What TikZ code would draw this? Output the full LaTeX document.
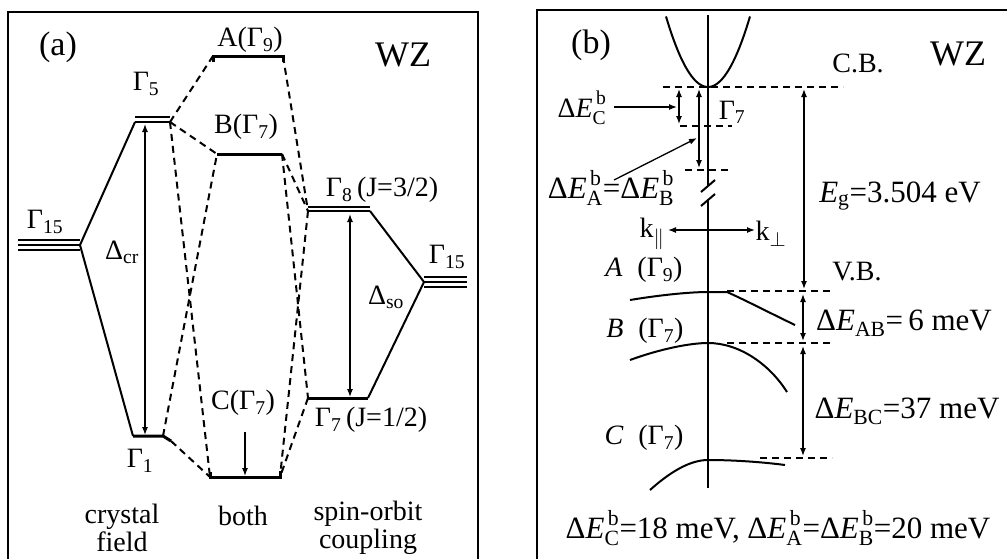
\documentclass[tikz,border=0pt]{standalone}
\usepackage{fontspec}
\setmainfont{Liberation Serif}
\usetikzlibrary{arrows.meta}
\newcommand{\sbs}[1]{$_{\mathrm{#1}}$}
\newcommand{\dEb}[1]{Δ\textit{E}$_{\mathrm{#1}\vphantom{A}}^{\,\mathrm{b}\vphantom{g}}$}
\newcommand{\dEs}[1]{Δ\textit{E}$_{\mathrm{#1}}$}
\begin{document}
\begin{tikzpicture}[x=1pt,y=-1pt,
  lvl/.style={line width=3pt},
  lvlt/.style={line width=1.8pt},
  conn/.style={line width=2pt},
  dsh/.style={line width=2pt, dash pattern=on 7pt off 5pt},
  dshb/.style={line width=1.6pt, dash pattern=on 7pt off 5pt},
  dbl/.style={line width=1.3pt,{Latex[length=8pt,width=6pt]}-{Latex[length=8pt,width=6pt]}},
  sng/.style={line width=1.3pt,-{Latex[length=8pt,width=6pt]}},
  lab/.style={inner sep=0pt, font=\fontsize{28}{32}\selectfont},
  labb/.style={inner sep=0pt, font=\fontsize{31}{35}\selectfont},
  pnl/.style={inner sep=0pt, font=\fontsize{34}{38}\selectfont},
  big/.style={inner sep=0pt, font=\fontsize{36}{40}\selectfont},
  frm/.style={line width=2.2pt}
]
\useasboundingbox (0,0) rectangle (1007,558);
\fill[white] (0,0) rectangle (1007,558);
% frames
\draw[frm] (8,570) -- (8,12) -- (478,12) -- (478,570);
\draw[frm] (537,570) -- (537,10) -- (1015,10);

% ---------- panel (a) ----------
\coordinate (g15Ll) at (18,245);  \coordinate (g15Lr) at (80,245);
\coordinate (g5l) at (135,122);   \coordinate (g5r) at (170,122);
\coordinate (al) at (213,56);     \coordinate (ar) at (283,56);
\coordinate (bl) at (217,154);    \coordinate (br) at (282,154);
\coordinate (cl) at (210,477);    \coordinate (cr) at (280,477);
\coordinate (g1l) at (133,436);   \coordinate (g1r) at (163,436);
\coordinate (g1t) at (171,441);
\coordinate (g8l) at (308,211);   \coordinate (g8r) at (370,211);
\coordinate (g7l) at (308,398);   \coordinate (g7r) at (368,398);
\coordinate (g15Rl) at (424,282); \coordinate (g15Rr) at (467,282);

% levels
\foreach \d in {-5,0,5}{\draw[lvlt] ([yshift=\d pt]g15Ll) -- ([yshift=\d pt]g15Lr);}
\foreach \d in {-5,0,5}{\draw[lvlt] ([yshift=\d pt]g15Rl) -- ([yshift=\d pt]g15Rr);}
\foreach \d in {0,5}{\draw[lvlt] ([yshift=\d pt]g5l) -- ([yshift=\d pt]g5r);}
\foreach \d in {0,4}{\draw[lvlt] ([yshift=\d pt]g8l) -- ([yshift=\d pt]g8r);}
\draw[lvl] ([yshift=-6pt]al) -- (al) -- (ar) -- ([yshift=-6pt]ar);
\draw[lvl] (bl) -- (br);
\draw[lvl] ([yshift=5pt]cl) -- (cl) -- (cr) -- ([yshift=6pt]cr);
\draw[lvl] (g1l) -- (g1r) -- (g1t);
\draw[lvl] (g7l) -- (g7r);

% solid connectors
\draw[conn] (g15Lr) -- (g5l);
\draw[conn] (g15Lr) -- (g1l);
\draw[conn] (g8r) -- (g15Rl);
\draw[conn] (g7r) -- (g15Rl);

% dashed connectors
\draw[dsh] (g5r) -- (al);
\draw[dsh] (g5r) -- (bl);
\draw[dsh] (g5r) -- (cl);
\draw[dsh] (g1r) -- (bl);
\draw[dsh] (g1t) -- (cl);
\draw[dsh] (ar) -- (g8l);
\draw[dsh] (br) -- (g8l);
\draw[dsh] (br) -- (g7l);
\draw[dsh] (g8l) -- (cr);
\draw[dsh] (g7l) -- (cr);

% arrows
\coordinate (dcrT) at (145,124); \coordinate (dcrB) at (145,435);
\coordinate (dsoT) at (350,214); \coordinate (dsoB) at (350,397);
\coordinate (cT) at (245,432);   \coordinate (cB) at (245,476);
\draw[dbl] (dcrT) -- (dcrB);
\draw[dbl] (dsoT) -- (dsoB);
\draw[sng] (cT) -- (cB);

% labels
\node[pnl] (la) at (58,47) {(a)};
\node[big] (wza) at (403,55) {WZ};
\node[lab] (lA) at (250,40) {A(Γ\sbs{9})};
\node[lab] (lG5) at (146,84) {Γ\sbs{5}};
\node[lab] (lB) at (246,127) {B(Γ\sbs{7})};
\node[lab] (lG15L) at (45,222) {Γ\sbs{15}};
\node[lab] (ldcr) at (122,252) {Δ\sbs{cr}};
\node[lab] (lG8) at (382,190) {Γ\sbs{8}\,(J=3/2)};
\node[lab] (lG15R) at (447,257) {Γ\sbs{15}};
\node[lab] (ldso) at (386,297) {Δ\sbs{so}};
\node[lab] (lC) at (243,403) {C(Γ\sbs{7})};
\node[lab] (lG7) at (371,420) {Γ\sbs{7}\,(J=1/2)};
\node[lab] (lG1) at (140,461) {Γ\sbs{1}};
\node[lab, align=center] (lcf) at (122,528) {crystal\\[-4pt]field};
\node[lab] (lboth) at (243,516) {both};
\node[lab, align=center] (lso) at (368,528) {spin-orbit\\[-4pt]coupling};

% ---------- panel (b) ----------
\coordinate (ax1) at (708,15);  \coordinate (ax2) at (708,186);
\coordinate (ax3) at (708,199); \coordinate (ax4) at (708,488);
\draw[conn] (ax1) -- (ax2);
\draw[conn] (ax3) -- (ax4);
\draw[conn] (701,192) -- (715,180);
\draw[conn] (701,206) -- (715,194);
\draw[conn] plot[domain=-42:42, samples=40, smooth] ({708+\x},{87-0.040*\x*\x});

\coordinate (cbL) at (663,87);  \coordinate (cbR) at (843,87);
\draw[dsh] (cbL) -- (cbR);
\draw[dshb] (680,126) -- (732,126);
\draw[dshb] (685,170) -- (732,170);

\coordinate (dcT) at (679,89);  \coordinate (dcB) at (679,124);
\coordinate (dabT) at (699,89); \coordinate (dabB) at (699,168);
\draw[dbl] (dcT) -- (dcB);
\draw[dbl] (dabT) -- (dabB);

\node[lab] (ldEc) at (582,108) {\dEb{C}};
\node[labb] (ldEab) at (611,188) {\dEb{A}=\dEb{B}};
\coordinate (pc) at (677,107);
\coordinate (pab) at (697,138);
\coordinate (pcs) at (614,107);
\coordinate (pabs) at (614,180);
\draw[sng] (pcs) -- (pc);
\draw[sng] (pabs) -- (pab);
\node[lab] (lG7b) at (732,112) {Γ\sbs{7}};
\node[lab] (lcb) at (858,63) {C.B.};
\node[big] (wzb) at (958,54) {WZ};
\node[pnl] (lb) at (591,45) {(b)};

\coordinate (egT) at (804,89); \coordinate (egB) at (804,289);
\draw[dbl] (egT) -- (egB);
\node[labb] (leg) at (900,196) {\textit{E}\sbs{g}=3.504 eV};

\coordinate (kL) at (668,230); \coordinate (kR) at (755,230);
\draw[dbl] (kL) -- (kR);
\node[lab] (lkp) at (652,234) {k$_{\parallel}$};
\node[lab] (lkt) at (771,234) {k$_{\perp}$};

\node[lab] (lAb) at (644,270) {\textit{A}\; (Γ\sbs{9})};
\node[lab] (lvb) at (857,272) {V.B.};
\node[lab] (lBb) at (645,331) {\textit{B}\; (Γ\sbs{7})};
\node[lab] (lCb) at (644,438) {\textit{C}\; (Γ\sbs{7})};

% bands
\draw[conn] (630,300) .. controls (660,295) and (690,292) .. (708,292) -- (727,292) .. controls (745,300) and (770,313) .. (795,325);
\draw[conn] (630,360) .. controls (660,349) and (690,343) .. (708,343) .. controls (740,343) and (770,365) .. (787,392);
\draw[conn] (650,490) .. controls (670,472) and (690,460) .. (708,460) .. controls (740,460) and (770,463) .. (785,465);

\draw[dshb] (727,291) -- (832,291);
\draw[dshb] (727,343) -- (832,343);
\draw[dshb] (760,458) -- (832,458);

\coordinate (abT) at (803,294); \coordinate (abB) at (803,341);
\coordinate (bcT) at (803,346); \coordinate (bcB) at (803,456);
\draw[dbl] (abT) -- (abB);
\draw[dbl] (bcT) -- (bcB);
\node[labb] (ldab) at (904,323) {\dEs{AB}=\,6 meV};
\node[labb] (ldbc) at (907,411) {\dEs{BC}=37 meV};

\node[labb] (lbot) at (778,528) {\dEb{C}=18 meV, \dEb{A}=\dEb{B}=20 meV};
\end{tikzpicture}
\end{document}
